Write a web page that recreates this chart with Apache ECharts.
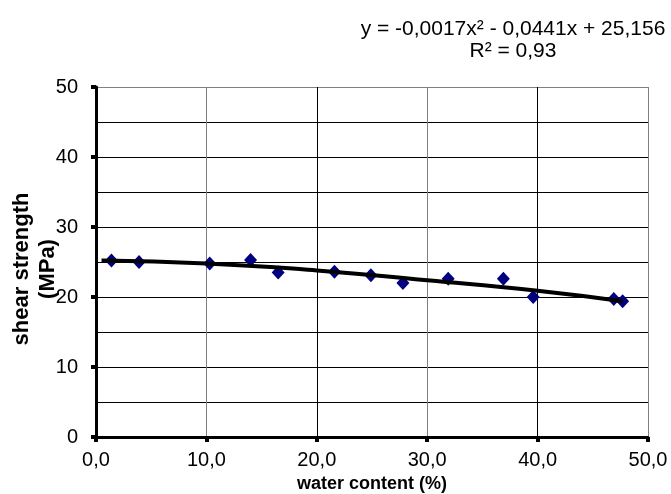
<!DOCTYPE html>
<html>
<head>
<meta charset="utf-8">
<script src="https://cdn.jsdelivr.net/npm/echarts@6/dist/echarts.min.js"></script>
<style>
  html, body { margin: 0; padding: 0; background: #fff; }
</style>
</head>
<body>
<div id="shear-chart" style="width: 671px; height: 494px;"></div>
<script>
    // measured points (water content %, shear strength MPa)
    var waterContent = [1.4, 3.9, 10.3, 14.0, 16.5, 21.6, 24.9, 27.8, 31.9, 36.9, 39.6, 46.9, 47.7];
    var shearStrength = [25.2, 25.0, 24.8, 25.3, 23.5, 23.6, 23.1, 22.0, 22.6, 22.6, 20.0, 19.7, 19.4];
    // polynomial trend line
    var trendX = [0.5, 10, 20, 30, 40, 47.7];
    var trendY = [25.2, 24.8, 23.8, 22.4, 20.9, 19.4];
    var xTicks = ['0,0', '10,0', '20,0', '30,0', '40,0', '50,0'];
    var equationText = 'y = -0,0017x² - 0,0441x + 25,156\nR² = 0,93';

    var FONT = '"Liberation Sans", Arial, sans-serif';

    var pointData = waterContent.map(function (x, i) { return [x, shearStrength[i]]; });
    var trendData = trendX.map(function (x, i) { return [x, trendY[i]]; });

    var chart = echarts.init(document.getElementById('shear-chart'));
    chart.setOption({
        animation: false,
        backgroundColor: '#fff',
        title: {
            text: equationText,
            left: 508,
            top: 13,
            textAlign: 'center',
            textStyle: {
                fontFamily: FONT,
                fontSize: 21,
                fontWeight: 'normal',
                color: '#000',
                lineHeight: 22,
                align: 'center'
            }
        },
        grid: {
            left: 96,
            right: 23,
            top: 87,
            bottom: 57,
            outerBoundsMode: 'none'
        },
        xAxis: {
            type: 'value',
            min: 0,
            max: 50,
            interval: 10,
            name: 'water content (%)',
            nameLocation: 'middle',
            nameGap: 38,
            nameMoveOverlap: false,
            nameTextStyle: {
                fontFamily: FONT,
                fontSize: 18,
                fontWeight: 'bold',
                color: '#000'
            },
            axisLine: {
                lineStyle: { color: '#000', width: 3 }
            },
            axisTick: {
                show: true,
                length: 5,
                lineStyle: { color: '#000', width: 4 }
            },
            axisLabel: {
                margin: 13,
                fontFamily: FONT,
                fontSize: 20,
                color: '#000',
                formatter: function (v) { return xTicks[Math.round(v / 10)]; }
            },
            splitLine: {
                show: true,
                lineStyle: { color: ['#000', '#808080'], width: 1 }
            }
        },
        yAxis: {
            type: 'value',
            min: 0,
            max: 50,
            interval: 10,
            name: 'shear strength\n(MPa)',
            nameLocation: 'middle',
            nameGap: 35,
            nameMoveOverlap: false,
            nameTextStyle: {
                fontFamily: FONT,
                fontSize: 22,
                fontWeight: 'bold',
                color: '#000',
                lineHeight: 26,
                padding: [0, 14, 0, 0]
            },
            axisLine: {
                show: true,
                lineStyle: { color: '#000', width: 3 }
            },
            axisTick: {
                show: true,
                length: 5,
                lineStyle: { color: '#000', width: 4 }
            },
            axisLabel: {
                margin: 18,
                fontFamily: FONT,
                fontSize: 20,
                color: '#000'
            },
            splitLine: {
                show: true,
                lineStyle: { color: ['#000', '#000', '#000', '#000', '#000', '#808080'], width: 1 }
            },
            minorTick: {
                show: false,
                splitNumber: 2
            },
            minorSplitLine: {
                show: true,
                lineStyle: { color: '#000', width: 1 }
            }
        },
        series: [{
            name: 'shear strength',
            type: 'scatter',
            data: pointData,
            symbol: 'diamond',
            symbolSize: [13, 14],
            itemStyle: { color: '#000080', opacity: 1 },
            z: 2
        }, {
            name: 'trend',
            type: 'line',
            data: trendData,
            smooth: true,
            showSymbol: false,
            symbol: 'none',
            lineStyle: { color: '#000', width: 4 },
            z: 3
        }]
    });
</script>
</body>
</html>
